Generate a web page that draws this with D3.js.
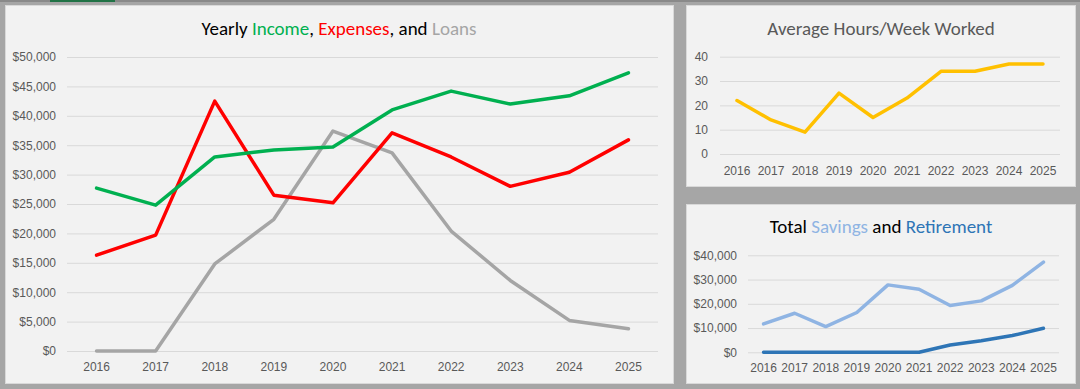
<!DOCTYPE html>
<html>
<head>
<meta charset="utf-8">
<script src="https://cdn.jsdelivr.net/npm/d3@7"></script>
<style>
  body { margin: 0; background: #a6a6a6; }
  svg { display: block; font-family: Carlito, Calibri, Lato, "Open Sans", sans-serif; }
</style>
</head>
<body>
<svg id="dash"></svg>
<script>
// data
const years = ["2016", "2017", "2018", "2019", "2020", "2021", "2022", "2023", "2024", "2025"];
const income = [27700, 24800, 33000, 34200, 34700, 41000, 44200, 42000, 43400, 47300];
const expenses = [16300, 19700, 42500, 26500, 25200, 37100, 33000, 28000, 30400, 35900];
const loans = [0, 0, 14800, 22400, 37400, 33700, 20400, 12000, 5200, 3800];
const hours = [22, 14, 9, 25, 15, 23, 34, 34, 37, 37];
const savings = [11700, 16100, 10600, 16400, 27800, 26000, 19300, 21200, 27600, 37200];
const retirement = [0, 0, 0, 0, 0, 0, 3000, 4800, 6900, 9900];
const moneyTicksBig = [0, 5000, 10000, 15000, 20000, 25000, 30000, 35000, 40000, 45000, 50000];
const hourTicks = [0, 10, 20, 30, 40];
const moneyTicksSmall = [0, 10000, 20000, 30000, 40000];

const width = 1080, height = 389;
const svg = d3.select("#dash").attr("width", width).attr("height", height);

svg.append("rect").attr("width", width).attr("height", height).attr("fill", "#a6a6a6");
// strip left over from the sheet header
svg.append("rect").attr("width", width).attr("height", 2).attr("fill", "#8a8a8a");
svg.append("rect").attr("x", 50).attr("width", 65).attr("height", 2).attr("fill", "#217346");

const money = d => "$" + d3.format(",")(d);

function panel(x, y, w, h) {
  svg.append("rect")
     .attr("x", x + 0.5).attr("y", y + 0.5)
     .attr("width", w).attr("height", h)
     .attr("fill", "#f2f2f2")
     .attr("stroke", "#d9d9d9");
}

function chart(opts) {
  const g = svg.append("g");

  const x = d3.scaleBand().domain(years).range([opts.left, opts.right]);
  const y = d3.scaleLinear().domain(opts.domain).range([opts.bottom, opts.top]);

  // gridlines + y labels
  g.append("g")
   .attr("transform", `translate(${opts.left},0)`)
   .call(d3.axisLeft(y).tickValues(opts.ticks).tickFormat(opts.fmt)
           .tickSize(-(opts.right - opts.left)).tickPadding(opts.pad))
   .call(a => a.select(".domain").remove())
   .call(a => a.selectAll("line").attr("stroke", "#d9d9d9"))
   .call(a => a.selectAll("text").attr("fill", "#595959").attr("font-size", 12));

  // x labels
  g.append("g")
   .attr("transform", `translate(0,${opts.bottom})`)
   .call(d3.axisBottom(x).tickSize(0).tickPadding(opts.xpad))
   .call(a => a.select(".domain").remove())
   .call(a => a.selectAll("text").attr("fill", "#595959").attr("font-size", 12));

  const line = d3.line()
    .x((d, i) => x(years[i]) + x.bandwidth() / 2)
    .y(d => y(d));

  opts.series.forEach(s => {
    g.append("path")
     .datum(s.values)
     .attr("d", line)
     .attr("fill", "none")
     .attr("stroke", s.color)
     .attr("stroke-width", 3.5)
     .attr("stroke-linejoin", "round")
     .attr("stroke-linecap", "round");
  });

  const t = g.append("text")
    .attr("x", opts.titleX).attr("y", opts.titleY)
    .attr("text-anchor", "middle")
    .attr("font-size", 19);
  opts.title.forEach(p => t.append("tspan").attr("fill", p[1]).text(p[0]));
}

panel(5, 5, 668, 378);
panel(686, 5, 389, 181);
panel(686, 204, 389, 179);

chart({
  left: 67, right: 658, top: 57, bottom: 351,
  domain: [0, 50000], ticks: moneyTicksBig, fmt: money, pad: 11, xpad: 11,
  series: [
    { values: loans, color: "#a5a5a5" },
    { values: expenses, color: "#ff0000" },
    { values: income, color: "#00b050" }
  ],
  title: [["Yearly ", "#000"], ["Income", "#00b050"], [", ", "#000"], ["Expenses", "#ff0000"],
          [", and ", "#000"], ["Loans", "#a5a5a5"]],
  titleX: 339, titleY: 35
});

chart({
  left: 720, right: 1060, top: 56.7, bottom: 154,
  domain: [0, 40], ticks: hourTicks, fmt: d3.format("d"), pad: 12, xpad: 12,
  series: [{ values: hours, color: "#ffc000" }],
  title: [["Average Hours/Week Worked", "#595959"]],
  titleX: 881, titleY: 35
});

chart({
  left: 748, right: 1059, top: 255.3, bottom: 352.3,
  domain: [0, 40000], ticks: moneyTicksSmall, fmt: money, pad: 11, xpad: 11,
  series: [
    { values: retirement, color: "#2e75b6" },
    { values: savings, color: "#8fb4e3" }
  ],
  title: [["Total ", "#000"], ["Savings", "#8fb4e3"], [" and ", "#000"], ["Retirement", "#2e75b6"]],
  titleX: 881, titleY: 233
});
</script>
</body>
</html>
